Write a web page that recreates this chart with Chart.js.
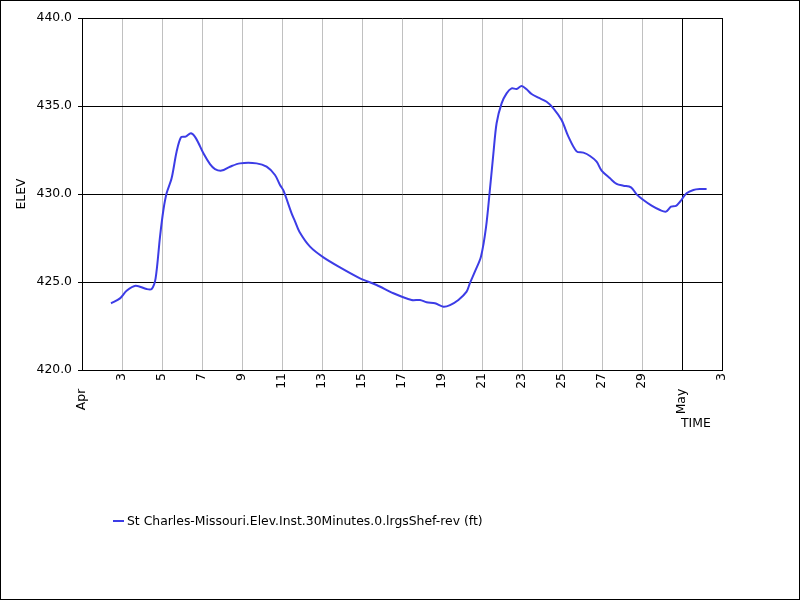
<!DOCTYPE html>
<html>
<head>
<meta charset="utf-8">
<script src="https://cdn.jsdelivr.net/npm/chart.js@4"></script>
<style>
  body { margin: 0; background: #fff; }
  #wrap { width: 800px; height: 600px; }
</style>
</head>
<body>
<div id="wrap"><canvas id="chart" width="800" height="600"></canvas></div>
<script>
// day of April (May 1 = 31)
const days = [2.45, 2.9, 3.23, 3.68, 4.23, 4.48, 4.68, 4.9, 5.07, 5.23, 5.48, 5.73, 5.95, 6.18, 6.45, 6.7,
  7.07, 7.4, 7.65, 7.98, 8.4, 8.9, 9.73, 10.23, 10.65, 10.9, 11.07, 11.48, 11.65, 11.87, 12.4, 13.07,
  13.9, 14.9, 15.73, 16.57, 17.48, 17.9, 18.23, 18.65, 19.07, 19.4, 19.82, 20.23, 20.4, 20.65, 20.95,
  21.2, 21.4, 21.57, 21.73, 21.98, 22.23, 22.48, 22.73, 22.98, 23.23, 23.48, 23.82, 24.23, 24.57,
  24.98, 25.32, 25.73, 26.07, 26.4, 26.73, 26.98, 27.4, 27.73, 28.07, 28.45, 28.73, 29.07, 29.48,
  29.9, 30.2, 30.45, 30.7, 30.9, 31.23, 31.57, 31.9, 32.23];
const elev = [423.79, 424.07, 424.5, 424.79, 424.6, 424.6, 425.21, 427.57, 429.09, 430.04, 430.89, 432.4, 433.22, 433.26, 433.45, 433.16,
  432.31, 431.7, 431.42, 431.33, 431.55, 431.74, 431.74, 431.55, 431.08, 430.51, 430.2, 428.9, 428.45, 427.86, 427.01, 426.4,
  425.83, 425.21, 424.83, 424.36, 423.98, 423.98, 423.85, 423.79, 423.6, 423.69, 423.98, 424.45, 424.95, 425.6, 426.45,
  428.1, 430.3, 432.31, 434.02, 435.15, 435.72, 436.0, 435.97, 436.14, 435.95, 435.68, 435.47, 435.24, 434.87,
  434.2, 433.26, 432.42, 432.35, 432.16, 431.84, 431.33, 430.89, 430.57, 430.47, 430.38, 429.98, 429.66, 429.34,
  429.09, 429.0, 429.28, 429.32, 429.56, 430.04, 430.23, 430.28, 430.28];
const seriesLabel = 'St Charles-Missouri.Elev.Inst.30Minutes.0.lrgsShef-rev (ft)';
const lineColor = 'rgb(60,60,230)';

Chart.defaults.font.family = 'DejaVu Sans';
Chart.defaults.font.size = 12.4;
Chart.defaults.color = '#000';

// frame, TIME label and legend
const extras = {
  id: 'extras',
  beforeDraw(chart) {
    const c = chart.ctx;
    c.save();
    c.fillStyle = '#fff';
    c.fillRect(0, 0, chart.width, chart.height);
    c.restore();
  },
  afterDraw(chart) {
    const c = chart.ctx, a = chart.chartArea;
    c.save();
    c.strokeStyle = '#000';
    c.lineWidth = 1;
    c.strokeRect(0.5, 0.5, chart.width - 1, chart.height - 1);
    c.font = '12.4px DejaVu Sans';
    c.fillStyle = '#000';
    c.textBaseline = 'middle';
    c.fillText('TIME', a.right - 41, a.bottom + 54);
    // legend
    const ly = a.bottom + 151;
    c.strokeStyle = lineColor;
    c.lineWidth = 2;
    c.beginPath();
    c.moveTo(a.left + 31, ly);
    c.lineTo(a.left + 42, ly);
    c.stroke();
    c.fillText(seriesLabel, a.left + 45, ly + 1);
    c.restore();
  }
};

new Chart(document.getElementById('chart'), {
  type: 'line',
  data: {
    datasets: [{
      label: seriesLabel,
      data: days.map((d, i) => ({ x: d, y: elev[i] })),
      borderColor: lineColor,
      borderWidth: 2,
      pointRadius: 0,
      tension: 0.3,
      fill: false
    }]
  },
  options: {
    responsive: false,
    animation: false,
    layout: { padding: { top: 18, right: 78, bottom: 170, left: 0 } },
    plugins: { legend: { display: false }, tooltip: { enabled: false } },
    scales: {
      x: {
        type: 'linear',
        min: 1,
        max: 33,
        afterFit: s => { s.height = 60; },
        border: { color: '#000' },
        grid: {
          drawTicks: false,
          color: ctx => (ctx.tick && (ctx.tick.value === 31 || ctx.tick.value === 33)) ? '#000' : '#c0c0c0'
        },
        ticks: {
          stepSize: 2,
          maxRotation: 90,
          minRotation: 90,
          padding: 3,
          autoSkip: false,
          callback: v => v === 1 ? 'Apr    ' : v === 31 ? 'May    ' : (v > 31 ? String(v - 30) : String(v))
        }
      },
      y: {
        min: 420,
        max: 440,
        afterFit: s => { s.width = 82; },
        border: { color: '#000' },
        title: { display: true, text: 'ELEV', padding: { top: 14, bottom: 0 } },
        grid: { color: '#000', tickLength: 4, tickColor: '#000' },
        ticks: { stepSize: 5, padding: 6, callback: v => v.toFixed(1) }
      }
    }
  },
  plugins: [extras]
});
</script>
</body>
</html>
